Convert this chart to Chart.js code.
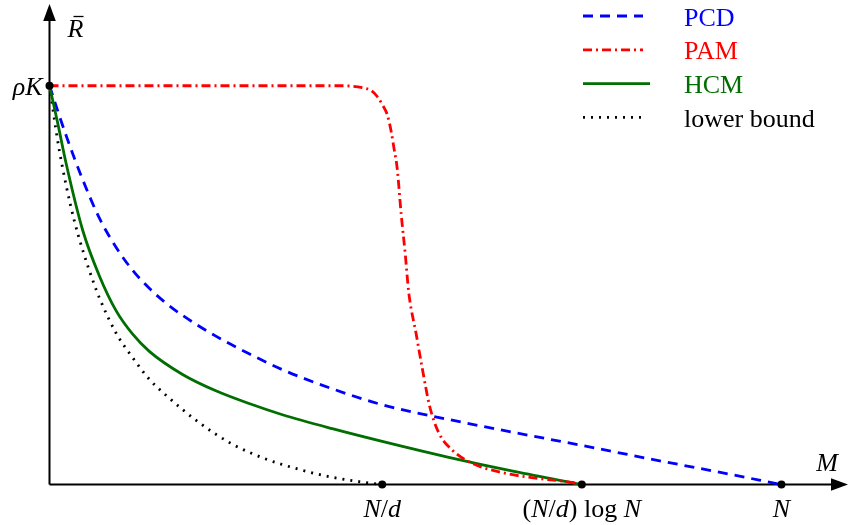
<!DOCTYPE html>
<html><head><meta charset="utf-8">
<script src="https://cdn.jsdelivr.net/npm/chart.js@4"></script>
<style>html,body{margin:0;padding:0;background:#fff;}#wrap{width:852px;height:525px;}</style>
</head><body><div id="wrap"><canvas id="c" width="852" height="525"></canvas></div>
<script>
// x in units of N/d, y in units of rho*K
const pcdX = [0, 0.05, 0.1, 0.15, 0.2, 0.25, 0.3, 0.35, 0.4, 0.5, 0.6, 0.7, 0.85, 1.0, 1.2, 1.4, 1.6, 1.8, 2.0, 2.2];
const pcdY = [1, 0.875, 0.764, 0.668, 0.595, 0.537, 0.492, 0.455, 0.424, 0.372, 0.328, 0.288, 0.240, 0.200, 0.163, 0.130, 0.098, 0.065, 0.033, 0];
const pamX = [0, 0.880, 0.940, 0.967, 0.985, 1.0, 1.015, 1.027, 1.036, 1.045, 1.057, 1.069, 1.080, 1.102, 1.120, 1.143, 1.171, 1.211, 1.271, 1.371, 1.471, 1.571, 1.6];
const pamY = [1, 1, 0.995, 0.988, 0.973, 0.953, 0.928, 0.885, 0.840, 0.793, 0.678, 0.580, 0.480, 0.378, 0.293, 0.195, 0.128, 0.086, 0.053, 0.028, 0.015, 0.005, 0];
const hcmX = [0, 0.025, 0.05, 0.1, 0.15, 0.2, 0.25, 0.3, 0.4, 0.5, 0.6, 0.7, 0.85, 1.0, 1.2, 1.4, 1.6];
const hcmY = [1, 0.905, 0.805, 0.637, 0.523, 0.436, 0.377, 0.334, 0.276, 0.235, 0.203, 0.175, 0.140, 0.108, 0.068, 0.032, 0];
const lbX = [0, 0.025, 0.05, 0.075, 0.1, 0.125, 0.15, 0.2, 0.25, 0.3, 0.35, 0.45, 0.55, 0.65, 0.75, 0.85, 0.95, 1.0];
const lbY = [1, 0.86, 0.75, 0.66, 0.587, 0.524, 0.468, 0.380, 0.318, 0.264, 0.224, 0.155, 0.101, 0.064, 0.038, 0.018, 0.005, 0];
const markX = [0, 1, 1.6, 2.2];
const markY = [1, 0, 0, 0];
const xTickValues = [1, 1.6, 2.2];
const xTickLabels = ['N/d', '(N/d) log N', 'N'];
const yTickValues = [1];
const yTickLabels = ['ρK'];
const seriesNames = ['PCD', 'PAM', 'HCM', 'lower bound'];
const seriesColors = ['#0000ff', '#ff0000', '#006e00', '#000000'];
const seriesDashes = [[10, 7], [9, 4, 2, 4], [], [2, 6]];
const xAxisName = 'M';
const yAxisName = 'R';

const zip = (xs, ys) => xs.map((x, i) => ({x, y: ys[i]}));
const SERIF = '"Liberation Serif", "DejaVu Serif", serif';
const FS = 26;

function drawMath(ctx, str, x, y, size, align) {
  const toks = str.split(/(log|[A-Za-zρ])/).filter(t => t.length);
  const fonts = toks.map(t => (t.length === 1 && /[A-Za-zρ]/.test(t)) ? `italic ${size}px ${SERIF}` : `${size}px ${SERIF}`);
  let w = 0; const ws = [];
  toks.forEach((t, i) => { ctx.font = fonts[i]; const m = ctx.measureText(t).width; ws.push(m); w += m; });
  let cx = align === 'center' ? x - w / 2 : (align === 'right' ? x - w : x);
  ctx.textAlign = 'left';
  toks.forEach((t, i) => { ctx.font = fonts[i]; ctx.fillText(t, cx, y); cx += ws[i]; });
  return w;
}

const decor = {
  id: 'decor',
  beforeDatasetsDraw(chart) {
    const {ctx, chartArea: a, scales: {x, y}} = chart;
    const x0 = x.getPixelForValue(0), y0 = y.getPixelForValue(0);
    ctx.save();
    ctx.strokeStyle = '#000'; ctx.fillStyle = '#000'; ctx.lineWidth = 2;
    ctx.beginPath(); ctx.moveTo(x0, y0); ctx.lineTo(a.right - 12, y0); ctx.stroke();
    ctx.beginPath(); ctx.moveTo(x0, y0); ctx.lineTo(x0, a.top + 12); ctx.stroke();
    ctx.beginPath(); ctx.moveTo(a.right, y0); ctx.lineTo(a.right - 17, y0 - 6.3); ctx.lineTo(a.right - 17, y0 + 6.3); ctx.closePath(); ctx.fill();
    ctx.beginPath(); ctx.moveTo(x0, a.top); ctx.lineTo(x0 - 6.3, a.top + 17); ctx.lineTo(x0 + 6.3, a.top + 17); ctx.closePath(); ctx.fill();
    ctx.restore();
  },
  afterDatasetsDraw(chart) {
    const {ctx, chartArea: a, scales: {x, y}} = chart;
    const x0 = x.getPixelForValue(0), y0 = y.getPixelForValue(0);
    ctx.save();
    ctx.fillStyle = '#000'; ctx.textBaseline = 'alphabetic';
    xTickValues.forEach((v, i) => drawMath(ctx, xTickLabels[i], x.getPixelForValue(v), y0 + 32.5, FS, 'center'));
    yTickValues.forEach((v, i) => drawMath(ctx, yTickLabels[i], x0 - 7, y.getPixelForValue(v) + 9, FS, 'right'));
    drawMath(ctx, xAxisName, a.right - 21, y0 - 14, FS, 'center');
    // R-bar
    ctx.font = `italic ${FS}px ${SERIF}`;
    const rx = x0 + 18, ry = 37;
    ctx.textAlign = 'left'; ctx.fillText(yAxisName, rx, ry);
    ctx.lineWidth = 1.3; ctx.strokeStyle = '#000';
    ctx.beginPath(); ctx.moveTo(rx + 6, 16.5); ctx.lineTo(rx + 16, 16.5); ctx.stroke();
    // legend
    const lx = 583, lw = 60, tx = 684;
    seriesNames.forEach((n, i) => {
      const ly = 16 + i * 33.8;
      ctx.strokeStyle = seriesColors[i]; ctx.lineWidth = 2.8; ctx.setLineDash(seriesDashes[i]);
      ctx.beginPath(); ctx.moveTo(lx, ly); ctx.lineTo(lx + (i === 2 ? 67 : lw), ly); ctx.stroke();
      ctx.setLineDash([]);
      ctx.fillStyle = seriesColors[i]; ctx.font = `${FS}px ${SERIF}`; ctx.textAlign = 'left';
      ctx.fillText(n, tx, ly + 9.5);
    });
    ctx.restore();
  }
};

const line = (label, xs, ys, i, order) => ({
  type: 'line', label, data: zip(xs, ys), borderColor: seriesColors[i], borderWidth: 2.8,
  borderDash: seriesDashes[i], pointRadius: 0, fill: false, cubicInterpolationMode: 'monotone', order, clip: 4
});

new Chart(document.getElementById('c'), {
  type: 'scatter',
  data: {datasets: [
    line(seriesNames[3], lbX, lbY, 3, 5),
    line(seriesNames[0], pcdX, pcdY, 0, 4),
    line(seriesNames[2], hcmX, hcmY, 2, 3),
    line(seriesNames[1], pamX, pamY, 1, 2),
    {type: 'scatter', label: 'marks', data: zip(markX, markY), pointRadius: 4, pointBackgroundColor: '#000', pointBorderColor: '#000', pointBorderWidth: 0, showLine: false, order: 0, clip: false}
  ]},
  options: {
    responsive: false, animation: false, devicePixelRatio: 1,
    layout: {padding: {left: 49.5, right: 2, top: 2, bottom: 40.5}},
    plugins: {legend: {display: false}, tooltip: {enabled: false}},
    scales: {
      x: {type: 'linear', min: 0, max: 2.4, display: false},
      y: {type: 'linear', min: 0, max: 1.205, display: false}
    }
  },
  plugins: [decor]
});
</script></body></html>
